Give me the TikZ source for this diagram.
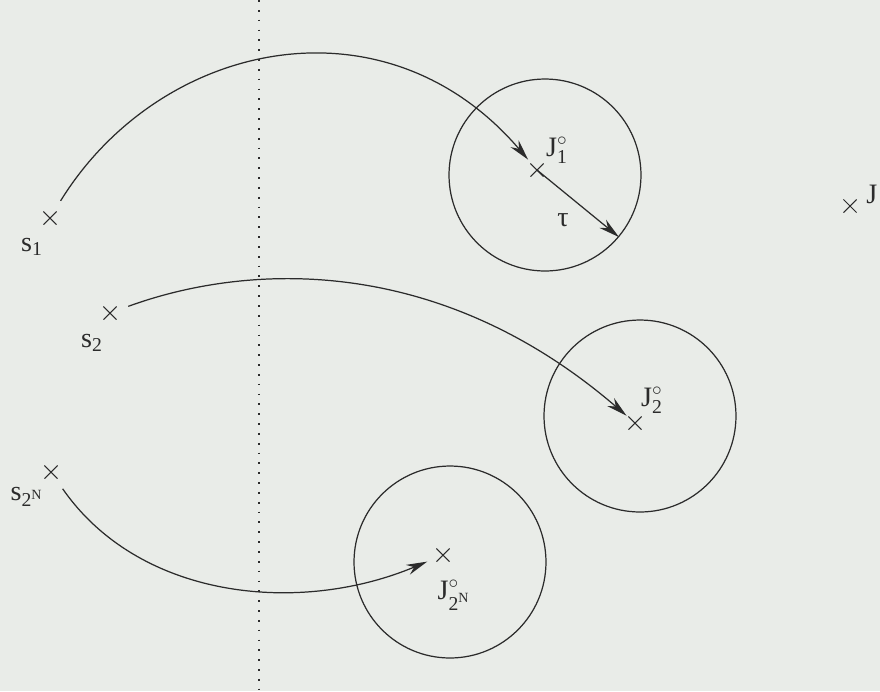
\documentclass[tikz,border=0pt]{standalone}
\usepackage{amsmath}
\usepackage{fontspec}
\setmainfont{Liberation Serif}
\usetikzlibrary{arrows.meta, positioning, shapes.misc}
\definecolor{paper}{HTML}{E9ECE8}
\definecolor{ink}{HTML}{2B2B2B}
\tikzset{
  pt/.style={cross out, draw=ink, line width=0.6pt, minimum size=0.24cm, inner sep=0pt},
  ball/.style={circle, draw=ink, line width=0.7pt, minimum size=3.84cm, inner sep=0pt},
  lbl/.style={font=\fontsize{16}{19}\selectfont, text=ink, inner sep=0pt},
  arrow/.style={-{Stealth[length=4.2mm, width=2.1mm]}, line width=0.7pt, ink},
  divider/.style={ink, line width=0.8pt, dash pattern=on 1pt off 4.6pt},
}
\begin{document}
\begin{tikzpicture}[x=0.02cm, y=-0.02cm]
\fill[paper] (0,0) rectangle (880,691);
\useasboundingbox (0,0) rectangle (880,691);
\coordinate (divtop) at (259,0);
\coordinate (divbot) at (259,691);
\draw[divider] (divtop) -- (divbot);
\node[ball] (ball1) at (545,175) {};
\node[ball] (ball2) at (640,416) {};
\node[ball] (ball3) at (450,562) {};
\node[pt] (s1) at (50,218) {};
\node[pt] (s2) at (110,313) {};
\node[pt] (s3) at (51,472) {};
\node[pt] (J1) at (537,170) {};
\node[pt] (J2) at (635,423) {};
\node[pt] (J3) at (443,555) {};
\node[pt] (J) at (850,206) {};
\node[lbl] (s1lbl) at (32,247) {$\text{s}_{\text{1}}$};
\node[lbl] (s2lbl) at (92,343) {$\text{s}_{\text{2}}$};
\node[lbl] (s3lbl) at (27,497) {$\text{s}_{\text{2}^{\text{N}}}$};
\node[lbl] (J1lbl) at (557,150) {$\text{J}^{\circ}_{\text{1}}$};
\node[lbl] (J2lbl) at (652,400) {$\text{J}^{\circ}_{\text{2}}$};
\node[lbl] (J3lbl) at (454,595) {$\text{J}^{\circ}_{\text{2}^{\text{N}}}$};
\node[lbl, anchor=west] (Jlbl) at (866,194) {J};
\node[lbl] (tau) at (563,220) {τ};
\draw[arrow, shorten <=2.5mm, shorten >=1mm] (s1) .. controls (160,40) and (385,-8) .. (J1);
\draw[arrow, shorten <=2.5mm, shorten >=0.5mm] (s2) .. controls (250,262) and (440,255) .. (J2);
\draw[arrow, shorten <=2.5mm, shorten >=2mm] (s3) .. controls (140,600) and (300,615) .. (J3);
\draw[arrow] (J1.center) -- (ball1.-40);
\end{tikzpicture}
\end{document}
